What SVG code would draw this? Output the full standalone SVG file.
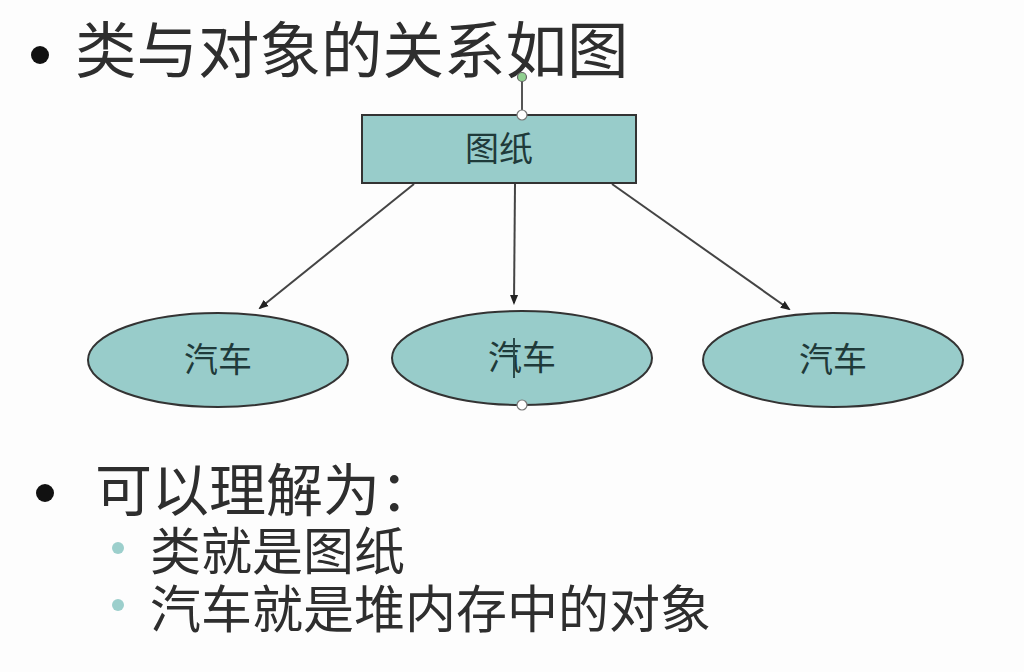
<svg xmlns="http://www.w3.org/2000/svg" width="1024" height="672" viewBox="0 0 1024 672">
<defs>
<style>
.t{font-family:"Liberation Sans","Noto Sans CJK SC",sans-serif;fill:#2e2e2e}
.shape{fill:#98CCCA;stroke:#333;stroke-width:2}
.lbl{font-family:"Liberation Sans","Noto Sans CJK SC",sans-serif;fill:#1f3a3a;font-size:34px;text-anchor:middle}
.conn{stroke:#444;stroke-width:2;fill:none}
.hdl{fill:#fff;stroke:#777;stroke-width:1.2}
</style>
<marker id="ah" viewBox="0 0 10 10" refX="8" refY="5" markerWidth="5" markerHeight="5" orient="auto">
<path d="M0,1 L10,5 L0,9 z" fill="#222"/>
</marker>
</defs>
<rect width="1024" height="672" fill="#fdfdfd"/>
<g id="title">
<circle cx="40" cy="55" r="9" fill="#111"/>
<text class="t" x="75" y="73" font-size="61.5">类与对象的关系如图</text>
</g>
<g id="connectors">
<line class="conn" x1="414" y1="184" x2="260" y2="308" marker-end="url(#ah)"/>
<line class="conn" x1="515" y1="184" x2="514" y2="303" marker-end="url(#ah)"/>
<line class="conn" x1="612" y1="184" x2="789" y2="309" marker-end="url(#ah)"/>
<line x1="522" y1="81" x2="522" y2="111" stroke="#555" stroke-width="2"/>
</g>
<g id="blueprint">
<rect class="shape" x="362" y="115" width="274" height="68"/>
<text class="lbl" x="499" y="161">图纸</text>
</g>
<g id="car1">
<ellipse class="shape" cx="218" cy="360" rx="130" ry="47"/>
<text class="lbl" x="218" y="372">汽车</text>
</g>
<g id="car2">
<ellipse class="shape" cx="522" cy="358" rx="130" ry="47"/>
<text class="lbl" x="522" y="370">汽车</text>
<line x1="514" y1="338" x2="514" y2="378" stroke="#2a4a4a" stroke-width="2"/>
</g>
<g id="car3">
<ellipse class="shape" cx="833" cy="360" rx="130" ry="47"/>
<text class="lbl" x="833" y="372">汽车</text>
</g>
<g id="handles">
<circle cx="522" cy="77" r="4.5" fill="#8fd08f" stroke="#666" stroke-width="1.2"/>
<circle class="hdl" cx="522" cy="115" r="5"/>
<circle class="hdl" cx="522" cy="405" r="5"/>
</g>
<g id="notes">
<circle cx="45" cy="493" r="9" fill="#111"/>
<text class="t" x="95" y="511" font-size="57">可以理解为：</text>
<circle cx="118" cy="548" r="6" fill="#9ccfcc"/>
<text class="t" x="150" y="570" font-size="51">类就是图纸</text>
<circle cx="118" cy="605" r="6" fill="#9ccfcc"/>
<text class="t" x="150" y="628" font-size="51">汽车就是堆内存中的对象</text>
</g>
</svg>
